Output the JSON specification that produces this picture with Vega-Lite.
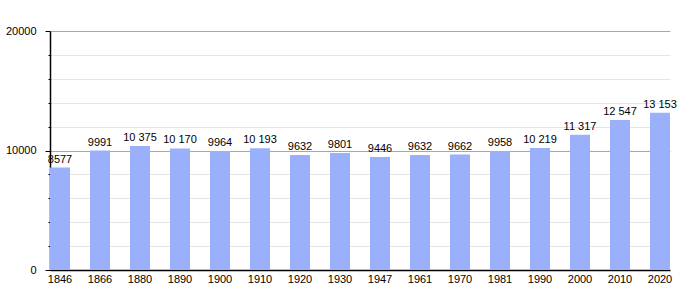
{
  "$schema": "https://vega.github.io/schema/vega-lite/v6.json",
  "width": 620,
  "height": 239,
  "autosize": {"type": "none"},
  "padding": {"left": 50, "top": 31, "right": 30, "bottom": 30},
  "background": "white",
  "data": {"values": [
    {"year": "1846", "pop": 8577, "label": "8577"},
    {"year": "1866", "pop": 9991, "label": "9991"},
    {"year": "1880", "pop": 10375, "label": "10 375"},
    {"year": "1890", "pop": 10170, "label": "10 170"},
    {"year": "1900", "pop": 9964, "label": "9964"},
    {"year": "1910", "pop": 10193, "label": "10 193"},
    {"year": "1920", "pop": 9632, "label": "9632"},
    {"year": "1930", "pop": 9801, "label": "9801"},
    {"year": "1947", "pop": 9446, "label": "9446"},
    {"year": "1961", "pop": 9632, "label": "9632"},
    {"year": "1970", "pop": 9662, "label": "9662"},
    {"year": "1981", "pop": 9958, "label": "9958"},
    {"year": "1990", "pop": 10219, "label": "10 219"},
    {"year": "2000", "pop": 11317, "label": "11 317"},
    {"year": "2010", "pop": 12547, "label": "12 547"},
    {"year": "2020", "pop": 13153, "label": "13 153"}
  ]},
  "config": {
    "view": {"stroke": null},
    "font": "Liberation Sans",
    "axis": {"labelFont": "Liberation Sans", "labelFontSize": 11, "labelColor": "black"}
  },
  "encoding": {
    "x": {
      "field": "year", "type": "nominal", "sort": null,
      "scale": {"paddingInner": 0.5, "paddingOuter": 0, "align": 0},
      "axis": {"title": null, "labelAngle": 0, "ticks": false, "domainColor": "black", "domainWidth": 1.5, "labelPadding": 3, "grid": false}
    },
    "y": {
      "field": "pop", "type": "quantitative",
      "scale": {"domain": [0, 20000], "nice": false},
      "axis": {
        "title": null,
        "values": [0, 2000, 4000, 6000, 8000, 10000, 12000, 14000, 16000, 18000, 20000],
        "labelExpr": "datum.value % 10000 === 0 ? datum.value : ''",
        "grid": true,
        "gridColor": {"condition": {"test": "datum.value % 10000 === 0 && datum.value > 0", "value": "#a8a8a8"}, "value": "#e4e4e4"},
        "gridWidth": 1,
        "tickColor": "black",
        "tickSize": {"condition": {"test": "datum.value % 10000 === 0", "value": 5}, "value": 2},
        "domainColor": "black",
        "domainWidth": 1.5,
        "labelPadding": 9
      }
    }
  },
  "layer": [
    {"mark": {"type": "bar", "color": "#9bb0fb"}},
    {
      "mark": {"type": "text", "baseline": "bottom", "dy": -3, "fontSize": 11, "color": "black", "font": "Liberation Sans"},
      "encoding": {"text": {"field": "label"}}
    }
  ]
}
